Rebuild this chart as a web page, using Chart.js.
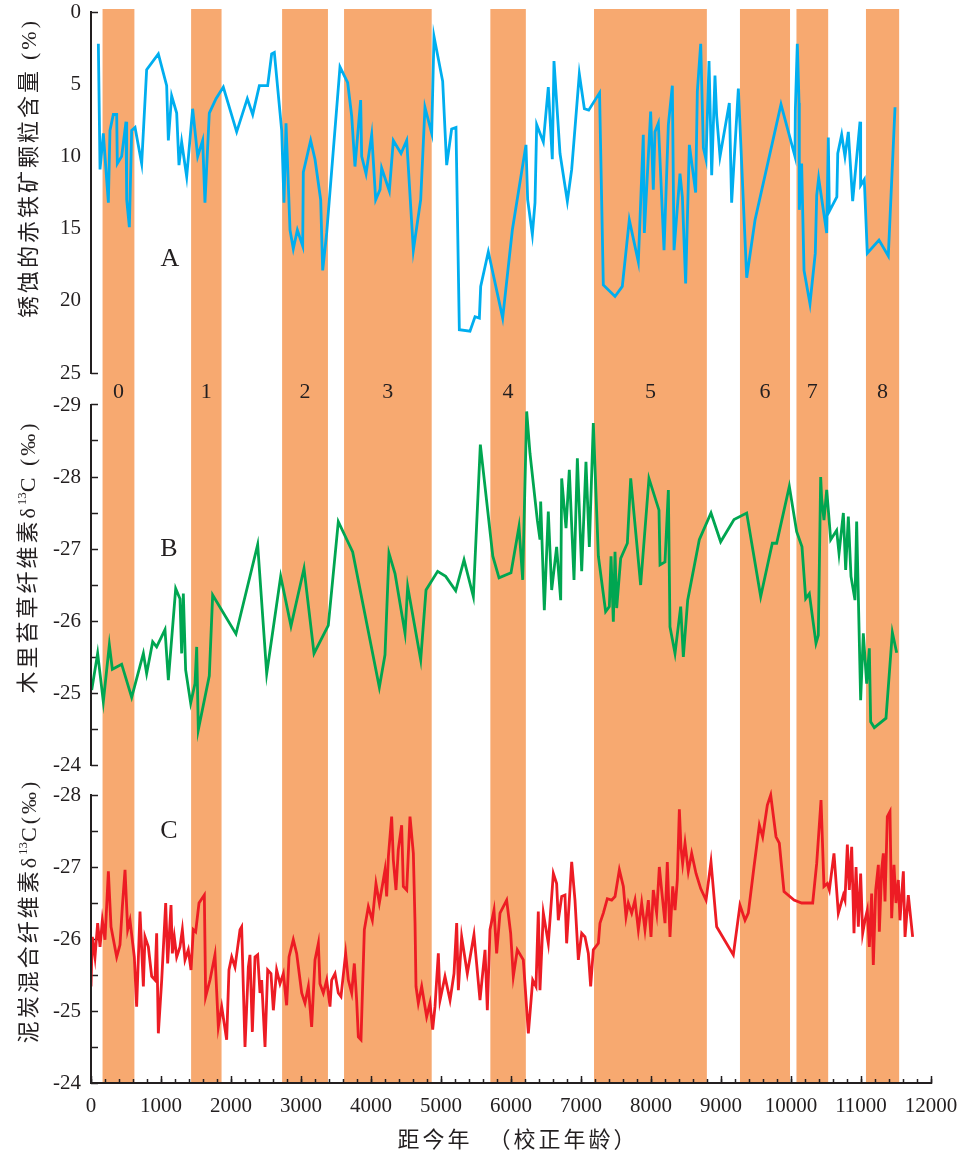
<!DOCTYPE html>
<html><head><meta charset="utf-8">
<script src="https://cdn.jsdelivr.net/npm/chart.js@4.4.0/dist/chart.umd.min.js"></script>
<style>
html,body{margin:0;padding:0;background:#fff;}
#wrap{position:relative;width:965px;height:1152px;overflow:hidden;}
canvas{position:absolute;left:0;top:0;}
.t{position:absolute;white-space:pre;color:#231F20;line-height:1;}
.rot{transform:translate(-50%,-50%) rotate(-90deg);font-family:"Noto Sans CJK SC";font-size:22px;letter-spacing:3px;}
.sf{font-family:"Liberation Serif";}
.ctr{transform:translate(-50%,-50%);}
sup{font-size:13px;vertical-align:9px;letter-spacing:0;}
</style></head><body>
<div id="wrap">
<canvas id="c" width="965" height="1152"></canvas>
<div class="t rot" style="left:27px;top:168px">锈蚀的赤铁矿颗粒含量 <span class="sf">(%)</span></div>
<div class="t rot" style="left:26px;top:557px">木里苔草纤维素<span class="sf">δ<sup>13</sup>C (‰)</span></div>
<div class="t rot" style="left:27px;top:911px">泥炭混合纤维素<span class="sf">δ<sup>13</sup>C(‰)</span></div>
<div class="t sf ctr" style="left:170px;top:258px;font-size:26px">A</div>
<div class="t sf ctr" style="left:169px;top:548px;font-size:26px">B</div>
<div class="t sf ctr" style="left:169px;top:830px;font-size:26px">C</div>
<div class="t ctr" style="left:518px;top:1137px;font-family:'Noto Sans CJK SC';font-size:22px;letter-spacing:3px">距今年  （校正年龄）</div>
</div>
<script>
// ---- data ----
const bandStart = [165, 1430, 2730, 3615, 5705, 7186, 9271, 10078, 11071];
const bandEnd   = [620, 1865, 3385, 4867, 6212, 8798, 9986, 10531, 11545];
const bandLabels = ['0','1','2','3','4','5','6','7','8'];

const xMajorTicks = [0,1000,2000,3000,4000,5000,6000,7000,8000,9000,10000,11000,12000];
const ticksA = [0,5,10,15,20,25];
const ticksB = [-29,-28.5,-28,-27.5,-27,-26.5,-26,-25.5,-25,-24.5,-24];
const ticksC = [-28,-27.5,-27,-26.5,-26,-25.5,-25,-24.5,-24];

// A: corroded hematite grain content (%)  [year BP, value]
const seriesA = [[105,2.2],[129,10.9],[176,8.4],[248,13.2],[271,8.2],[319,7.1],[367,7.1],[376,10.5],[438,10.0],[500,7.6],[510,13.0],[548,14.9],[581,8.2],[629,8.0],[724,10.5],[795,4.0],[962,2.9],[1081,5.1],[1105,8.9],[1152,5.8],[1224,7.0],[1257,10.6],[1295,9.0],[1367,11.4],[1452,6.7],[1524,10.0],[1595,8.9],[1628,13.2],[1690,7.0],[1786,6.0],[1890,5.2],[2081,8.3],[2233,6.0],[2310,7.1],[2405,5.1],[2524,5.1],[2581,2.9],[2619,2.8],[2724,8.2],[2757,13.2],[2786,7.7],[2843,15.1],[2890,16.4],[2948,15.1],[3024,16.2],[3033,11.1],[3138,8.9],[3200,10.2],[3281,13.0],[3310,17.9],[3367,15.3],[3557,3.8],[3667,4.9],[3724,7.2],[3771,10.7],[3852,6.1],[3867,10.0],[3929,11.2],[4010,8.5],[4067,13.0],[4129,12.3],[4152,10.8],[4262,12.4],[4319,8.9],[4429,9.8],[4510,8.9],[4605,16.5],[4710,13.0],[4771,6.6],[4867,8.4],[4900,1.7],[5024,4.8],[5081,10.6],[5152,8.1],[5214,8.0],[5262,22.0],[5414,22.1],[5486,21.1],[5548,21.2],[5567,19.0],[5676,16.6],[5881,21.2],[6019,15.1],[6214,9.2],[6238,13.0],[6305,15.4],[6343,13.2],[6367,7.8],[6462,9.0],[6533,5.2],[6590,10.2],[6614,3.4],[6700,9.8],[6805,13.1],[6867,10.9],[6976,4.3],[7048,6.7],[7110,6.8],[7265,5.6],[7319,18.9],[7486,19.7],[7590,19.0],[7690,14.4],[7819,17.3],[7890,8.5],[7905,15.3],[7995,6.9],[8033,12.3],[8057,8.3],[8105,7.7],[8186,16.5],[8248,7.8],[8305,5.1],[8329,16.5],[8414,11.2],[8448,12.8],[8495,18.8],[8548,9.2],[8638,12.5],[8662,5.5],[8710,2.2],[8748,9.4],[8786,10.2],[8829,3.4],[8867,11.3],[8914,4.4],[8938,7.2],[8986,10.0],[9119,6.3],[9152,13.2],[9248,5.3],[9367,18.4],[9486,14.4],[9857,6.4],[10057,10.0],[10062,6.8],[10090,2.2],[10115,6.3],[10119,13.7],[10152,10.5],[10186,17.9],[10271,20.2],[10347,16.7],[10367,12.7],[10395,11.5],[10510,15.3],[10533,8.7],[10548,13.8],[10655,12.8],[10668,9.8],[10724,8.5],[10771,10.0],[10819,8.3],[10881,13.1],[10986,7.6],[10995,12.0],[11047,11.6],[11090,16.7],[11257,15.8],[11390,16.9],[11486,6.6]];

// B: Carex muliensis cellulose δ13C (‰)
const seriesB = [[10,-25.04],[95,-25.55],[176,-24.88],[262,-25.67],[305,-25.33],[438,-25.40],[581,-24.94],[748,-25.55],[795,-25.27],[881,-25.71],[938,-25.64],[1057,-25.88],[1105,-25.18],[1210,-26.45],[1271,-26.31],[1295,-25.55],[1319,-26.38],[1352,-25.32],[1424,-24.86],[1486,-25.13],[1510,-25.64],[1533,-24.49],[1690,-25.24],[1738,-26.36],[2071,-25.82],[2381,-27.06],[2510,-25.27],[2710,-26.62],[2857,-25.93],[3043,-26.73],[3186,-25.55],[3390,-25.94],[3533,-27.38],[3738,-26.96],[4119,-25.08],[4200,-25.53],[4257,-26.94],[4343,-26.66],[4486,-25.83],[4524,-26.48],[4710,-25.46],[4786,-26.43],[4952,-26.69],[5067,-26.62],[5210,-26.42],[5329,-26.85],[5462,-26.34],[5562,-28.45],[5740,-26.9],[5829,-26.6],[6000,-26.67],[6114,-27.31],[6167,-26.57],[6224,-28.91],[6271,-28.33],[6376,-27.4],[6414,-27.13],[6424,-27.66],[6476,-26.15],[6533,-27.52],[6581,-26.43],[6652,-27.03],[6710,-26.29],[6724,-27.98],[6786,-27.29],[6833,-28.10],[6900,-26.57],[6948,-28.26],[7010,-26.69],[7071,-28.21],[7119,-27.03],[7176,-28.75],[7248,-26.9],[7352,-26.13],[7405,-26.2],[7429,-26.9],[7462,-25.99],[7486,-26.96],[7510,-26.18],[7567,-26.87],[7662,-27.08],[7710,-27.98],[7852,-26.5],[7971,-27.98],[8114,-27.54],[8129,-26.78],[8200,-26.82],[8248,-27.82],[8271,-25.92],[8343,-25.55],[8424,-26.2],[8462,-25.5],[8524,-26.29],[8690,-27.13],[8857,-27.5],[8995,-27.1],[9186,-27.41],[9367,-27.5],[9567,-26.34],[9733,-27.08],[9795,-27.08],[9976,-27.87],[10081,-27.24],[10157,-27.03],[10210,-26.31],[10262,-26.38],[10357,-25.69],[10390,-25.8],[10424,-28.0],[10438,-27.7],[10471,-27.4],[10510,-27.82],[10567,-27.13],[10652,-27.26],[10686,-26.94],[10748,-27.5],[10781,-26.71],[10819,-27.45],[10857,-26.62],[10914,-26.29],[10938,-27.38],[10995,-24.9],[11033,-25.83],[11081,-25.13],[11119,-25.62],[11138,-24.6],[11190,-24.52],[11357,-24.65],[11448,-25.84],[11510,-25.56]];

// C: peat mixed cellulose δ13C (‰)
const seriesC = [[0,-25.34],[19,-26.03],[57,-25.75],[95,-26.22],[129,-25.89],[162,-26.26],[200,-25.99],[248,-26.94],[286,-26.17],[367,-25.75],[414,-25.92],[448,-26.45],[486,-26.96],[524,-26.13],[557,-26.26],[619,-25.75],[652,-25.06],[700,-26.38],[748,-25.34],[771,-26.03],[819,-25.89],[867,-25.48],[914,-25.43],[938,-26.08],[962,-24.69],[1010,-25.43],[1067,-26.5],[1095,-25.66],[1143,-26.47],[1162,-25.8],[1190,-26.03],[1224,-25.75],[1271,-25.89],[1305,-26.13],[1343,-25.71],[1390,-25.85],[1429,-25.57],[1462,-26.13],[1495,-26.1],[1543,-26.5],[1619,-26.61],[1638,-25.2],[1700,-25.43],[1771,-25.78],[1819,-24.78],[1867,-25.06],[1938,-24.6],[1971,-25.57],[2010,-25.75],[2057,-25.61],[2129,-26.13],[2152,-26.17],[2200,-24.5],[2248,-25.61],[2271,-25.78],[2305,-24.71],[2343,-25.75],[2381,-25.78],[2414,-25.25],[2438,-25.43],[2486,-24.5],[2524,-25.57],[2571,-25.52],[2605,-25.01],[2652,-25.57],[2700,-25.38],[2748,-25.52],[2795,-25.08],[2829,-25.75],[2890,-25.99],[2938,-25.8],[3010,-25.25],[3057,-25.11],[3105,-25.34],[3152,-24.78],[3200,-25.71],[3248,-25.94],[3271,-25.38],[3319,-25.25],[3367,-25.43],[3414,-25.06],[3438,-25.43],[3486,-25.52],[3533,-25.25],[3571,-25.2],[3638,-25.8],[3676,-25.43],[3724,-25.25],[3762,-25.66],[3795,-25.15],[3819,-24.64],[3857,-24.6],[3905,-26.13],[3962,-26.45],[4019,-26.26],[4071,-26.77],[4119,-26.5],[4176,-26.82],[4200,-26.96],[4224,-26.59],[4248,-27.14],[4295,-27.7],[4319,-27.1],[4357,-26.68],[4390,-27.24],[4438,-27.58],[4462,-26.73],[4510,-26.68],[4557,-27.7],[4605,-27.19],[4629,-26.22],[4643,-25.34],[4676,-25.11],[4724,-25.34],[4795,-24.92],[4843,-25.11],[4881,-24.74],[4914,-25.06],[4962,-25.8],[4986,-25.15],[5057,-25.48],[5129,-25.15],[5186,-25.52],[5224,-26.22],[5248,-25.29],[5295,-26.03],[5376,-25.52],[5471,-26.06],[5557,-25.15],[5629,-25.85],[5662,-25.01],[5700,-26.13],[5757,-26.4],[5795,-25.8],[5843,-26.36],[5938,-26.54],[5995,-26.08],[6033,-25.48],[6090,-25.85],[6176,-25.71],[6248,-24.69],[6310,-25.43],[6357,-25.34],[6390,-26.38],[6414,-25.29],[6462,-26.36],[6533,-25.94],[6605,-26.91],[6652,-26.77],[6676,-26.26],[6724,-26.59],[6771,-26.61],[6795,-25.94],[6867,-27.07],[6914,-26.54],[6962,-25.71],[7010,-26.08],[7057,-26.03],[7105,-25.8],[7138,-25.34],[7176,-25.85],[7248,-25.94],[7271,-26.22],[7319,-26.36],[7376,-26.56],[7438,-26.54],[7486,-26.59],[7548,-26.96],[7605,-26.73],[7643,-26.31],[7676,-26.5],[7724,-26.36],[7771,-26.54],[7819,-26.13],[7867,-26.5],[7914,-26.13],[7962,-26.54],[8000,-26.03],[8033,-26.68],[8081,-26.36],[8119,-27.0],[8152,-26.68],[8200,-26.22],[8233,-27.07],[8271,-26.03],[8310,-26.73],[8343,-26.4],[8376,-26.82],[8405,-27.8],[8429,-27.26],[8452,-27.05],[8486,-27.33],[8533,-26.94],[8581,-27.19],[8643,-26.91],[8710,-26.7],[8786,-26.54],[8857,-27.07],[8938,-26.17],[9176,-25.78],[9271,-26.47],[9343,-26.26],[9390,-26.36],[9471,-27.0],[9548,-27.58],[9595,-27.42],[9662,-27.86],[9710,-28.0],[9786,-27.42],[9833,-27.33],[9900,-26.66],[10043,-26.54],[10152,-26.5],[10310,-26.5],[10367,-27.05],[10429,-27.93],[10471,-26.73],[10519,-26.77],[10548,-26.68],[10614,-27.19],[10676,-26.36],[10748,-26.61],[10771,-26.54],[10805,-27.31],[10833,-26.68],[10867,-27.28],[10900,-26.08],[10929,-27.0],[10962,-26.17],[10995,-26.91],[11024,-26.08],[11057,-26.26],[11090,-26.4],[11119,-25.89],[11152,-26.63],[11176,-25.64],[11210,-26.68],[11248,-27.03],[11262,-26.1],[11295,-26.96],[11319,-27.19],[11343,-26.52],[11376,-27.7],[11414,-27.77],[11438,-26.29],[11471,-27.03],[11500,-26.5],[11533,-26.82],[11557,-26.26],[11605,-26.94],[11629,-26.03],[11676,-26.61],[11738,-26.03]];

// ---- layout / style ----
const ink = '#231F20';
const bandColor = '#F7A970';
const serif = '"Liberation Serif", "Times New Roman", serif';
const T = 9, BOT = 1083;                 // plot area top / bottom (px)
const boxA = [T, 389], boxB = [389, 779], boxC = [779, BOT];   // stacked y-axis boxes
function span(box, vTop, pTop, vBot, pBot) {
  const k = (vBot - vTop) / (pBot - pTop);
  return { min: vTop - (pTop - box[0]) * k, max: vBot + (box[1] - pBot) * k, w: box[1] - box[0] };
}
const rA = span(boxA, 0, 12, 25, 373), rB = span(boxB, -29, 405, -24, 765), rC = span(boxC, -28, 795, -24, 1083);
const panelRange = { yA: [0, 25], yB: [-29, -24], yC: [-28, -24] };

function yAxis(r, ticks, weight, markFn) {
  return {
    type: 'linear', position: 'left', reverse: true, bounds: 'data', min: r.min, max: r.max, weight,
    stack: 'panels', stackWeight: r.w, offset: false,
    afterBuildTicks: s => { s.ticks = ticks.map(v => ({ value: v })); },
    afterFit: s => { s.width = 91; s.paddingTop = 0; s.paddingBottom = 0; },
    ticks: { autoSkip: false, padding: 17, color: ink, font: { family: serif, size: 21 },
      callback: v => Number.isInteger(v) ? String(v) : '' },
    grid: { display: true, drawOnChartArea: false, drawTicks: true, tickLength: -7, tickWidth: 1.5,
      tickColor: c => markFn(c.tick ? c.tick.value : null) ? ink : 'rgba(0,0,0,0)' },
    border: { display: false }
  };
}

const bandsPlugin = {
  id: 'bands',
  beforeDraw(chart) {
    const { ctx, chartArea } = chart, xs = chart.scales.x;
    ctx.save();
    ctx.fillStyle = bandColor;
    bandStart.forEach((s, i) => {
      const x0 = xs.getPixelForValue(s), x1 = xs.getPixelForValue(bandEnd[i]);
      ctx.fillRect(x0, chartArea.top, x1 - x0, chartArea.bottom - chartArea.top);
    });
    ctx.fillStyle = ink;
    ctx.font = '22px ' + serif;
    ctx.textAlign = 'center';
    ctx.textBaseline = 'middle';
    bandStart.forEach((s, i) => {
      ctx.fillText(bandLabels[i], xs.getPixelForValue((s + bandEnd[i]) / 2), 392);
    });
    ctx.restore();
  }
};
const axisLinePlugin = {
  id: 'axisLines',
  afterDatasetsDraw(chart) {
    const ctx = chart.ctx;
    ctx.save();
    ctx.strokeStyle = ink; ctx.lineWidth = 2;
    Object.keys(panelRange).forEach(id => {
      const s = chart.scales[id], [a, b] = panelRange[id];
      ctx.beginPath();
      ctx.moveTo(s.right, s.getPixelForValue(a) - 1);
      ctx.lineTo(s.right, s.getPixelForValue(b) + 1);
      ctx.stroke();
    });
    ctx.restore();
  }
};

const line = (data, color, yid) => ({
  data: data.map(([x, y]) => ({ x, y })), xAxisID: 'x', yAxisID: yid,
  borderColor: color, borderWidth: 2.8, pointRadius: 0, fill: false, tension: 0,
  borderJoinStyle: 'miter'
});

new Chart(document.getElementById('c'), {
  type: 'line',
  data: { datasets: [
    line(seriesA, '#00AEEF', 'yA'),
    line(seriesB, '#00A651', 'yB'),
    line(seriesC, '#ED1C24', 'yC')
  ] },
  options: {
    responsive: false, devicePixelRatio: 1, animation: false, events: [],
    layout: { padding: { top: T, left: 0, right: 34, bottom: 1152 - BOT - 40 } },
    plugins: { legend: { display: false }, tooltip: { enabled: false } },
    scales: {
      x: {
        type: 'linear', position: 'bottom', bounds: 'data', min: 0, max: 12000, weight: 1,
        afterBuildTicks: s => { s.ticks = xMajorTicks.map(v => ({ value: v })); },
        afterFit: s => { s.height = 40; s.paddingLeft = 0; s.paddingRight = 0; },
        ticks: { autoSkip: false, maxRotation: 0, minRotation: 0, padding: 18, color: ink,
          font: { family: serif, size: 21 }, callback: v => String(v) },
        grid: { display: true, drawOnChartArea: false, drawTicks: true, tickLength: -7, tickWidth: 1.5, tickColor: ink },
        border: { display: true, color: ink, width: 2 }
      },
      xMinor: {
        type: 'linear', position: 'bottom', bounds: 'data', min: 0, max: 12000, weight: 0,
        afterFit: s => { s.height = 0; s.paddingLeft = 0; s.paddingRight = 0; },
        ticks: { display: false, stepSize: 200, autoSkip: false },
        grid: { display: true, drawOnChartArea: false, drawTicks: true, tickLength: -4, tickWidth: 1.5, tickColor: ink },
        border: { display: false }
      },
      yA: yAxis(rA, ticksA, 3, v => v === 0 || v === 25),
      yB: yAxis(rB, ticksB, 2, v => v !== null),
      yC: yAxis(rC, ticksC, 1, v => v !== null)
    }
  },
  plugins: [bandsPlugin, axisLinePlugin]
});
</script>
</body></html>
